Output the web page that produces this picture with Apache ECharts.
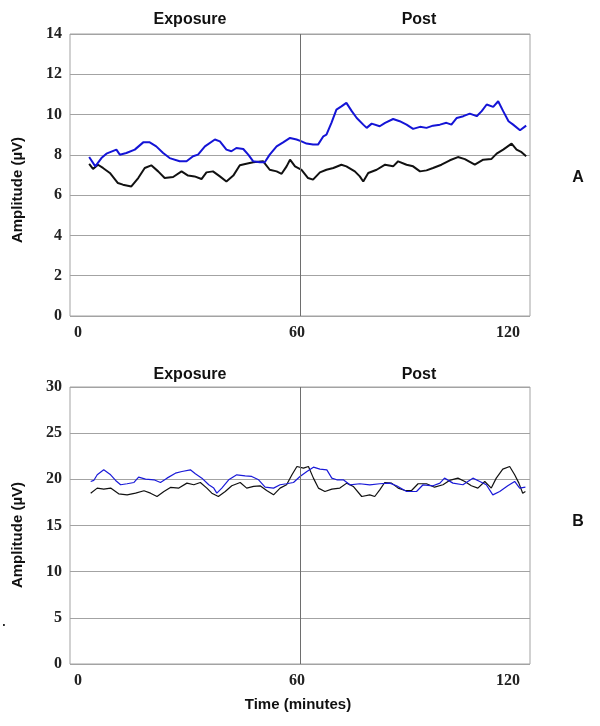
<!DOCTYPE html>
<html>
<head>
<meta charset="utf-8">
<script src="https://cdn.jsdelivr.net/npm/echarts@6/dist/echarts.min.js"></script>
<style>
  html, body { margin: 0; padding: 0; background: #fff; }
  #chart { width: 600px; height: 726px; }
</style>
</head>
<body>
<div id="chart"></div>
<script>
// panel A (top), time in minutes
var timeBlueA = [5.0, 6.6, 8.2, 9.5, 12.1, 13.0, 14.7, 16.9, 19.1, 20.8, 22.5, 24.3, 26.0, 28.6, 30.4, 32.1, 33.4, 35.2, 37.8, 39.1, 40.8, 42.1, 43.4, 45.2, 46.5, 47.8, 49.5, 50.8, 52.1, 53.9, 55.6, 57.4, 59.1, 60.4, 61.7, 63.4, 64.7, 66.1, 66.9, 68.2, 69.5, 70.8, 72.1, 73.5, 74.8, 76.5, 77.4, 78.7, 80.8, 82.2, 84.3, 86.0, 87.8, 89.5, 91.3, 93.0, 94.7, 96.5, 98.2, 99.5, 100.9, 102.6, 104.3, 106.1, 107.4, 108.7, 110.4, 111.7, 113.0, 114.4, 115.6, 117.4, 119.0]
var blueA = [7.89, 7.43, 7.84, 8.06, 8.26, 8.01, 8.09, 8.26, 8.62, 8.62, 8.42, 8.09, 7.84, 7.68, 7.68, 7.93, 8.01, 8.42, 8.76, 8.67, 8.26, 8.18, 8.34, 8.29, 8.01, 7.68, 7.63, 7.63, 8.01, 8.42, 8.62, 8.84, 8.76, 8.67, 8.56, 8.51, 8.51, 8.92, 9.0, 9.59, 10.25, 10.41, 10.58, 10.17, 9.83, 9.5, 9.34, 9.55, 9.42, 9.59, 9.78, 9.67, 9.5, 9.29, 9.39, 9.34, 9.45, 9.5, 9.59, 9.5, 9.83, 9.92, 10.05, 9.92, 10.17, 10.5, 10.38, 10.66, 10.17, 9.67, 9.5, 9.22, 9.45]
var timeBlackA = [5.0, 6.0, 7.3, 8.6, 10.4, 12.5, 13.8, 16.0, 17.8, 19.5, 21.2, 23.0, 24.7, 26.9, 29.1, 30.8, 32.5, 34.3, 35.6, 37.3, 39.1, 40.8, 42.6, 44.3, 46.0, 47.8, 50.4, 52.1, 53.9, 55.2, 56.5, 57.4, 58.7, 60.4, 62.1, 63.4, 65.2, 66.9, 68.7, 70.8, 72.1, 74.3, 75.6, 76.5, 77.8, 80.0, 82.2, 84.3, 85.6, 87.8, 89.5, 91.3, 93.0, 94.7, 96.9, 99.1, 101.2, 103.0, 105.6, 107.8, 109.9, 111.3, 113.0, 115.2, 116.5, 117.8, 119.0]
var blackA = [7.55, 7.3, 7.51, 7.35, 7.1, 6.6, 6.52, 6.43, 6.85, 7.35, 7.48, 7.18, 6.85, 6.9, 7.18, 6.97, 6.93, 6.8, 7.13, 7.18, 6.93, 6.68, 6.97, 7.48, 7.56, 7.63, 7.68, 7.26, 7.18, 7.06, 7.43, 7.76, 7.43, 7.26, 6.85, 6.77, 7.13, 7.26, 7.35, 7.51, 7.43, 7.18, 6.93, 6.68, 7.1, 7.26, 7.51, 7.43, 7.68, 7.51, 7.43, 7.18, 7.23, 7.35, 7.51, 7.73, 7.89, 7.79, 7.51, 7.76, 7.79, 8.06, 8.26, 8.56, 8.26, 8.13, 7.93]

// panel B (bottom)
var timeBlueB = [5.4, 6.2, 7.1, 8.8, 10.6, 11.9, 13.2, 14.9, 16.7, 17.9, 19.7, 21.9, 23.6, 25.3, 27.5, 29.2, 31.4, 32.7, 34.4, 36.2, 37.5, 38.3, 39.6, 41.4, 43.5, 45.7, 47.4, 49.2, 50.9, 53.1, 54.8, 56.5, 58.3, 60.0, 61.8, 63.5, 65.2, 67.0, 68.3, 69.6, 71.3, 73.0, 75.6, 78.2, 80.8, 83.4, 85.2, 87.8, 90.4, 92.1, 94.7, 96.5, 97.7, 99.9, 102.5, 105.1, 106.9, 108.6, 110.3, 112.1, 114.2, 116.0, 117.3, 118.8]
var blueB = [19.77, 19.88, 20.49, 21.03, 20.49, 19.88, 19.41, 19.52, 19.66, 20.24, 20.02, 19.95, 19.66, 20.13, 20.67, 20.85, 21.03, 20.6, 20.13, 19.41, 19.05, 18.5, 19.05, 19.95, 20.49, 20.38, 20.31, 19.95, 19.15, 19.05, 19.41, 19.52, 19.66, 20.31, 20.85, 21.32, 21.11, 21.03, 20.13, 19.95, 19.95, 19.41, 19.52, 19.41, 19.52, 19.59, 19.3, 18.68, 18.68, 19.41, 19.3, 19.59, 20.13, 19.59, 19.41, 20.13, 19.77, 19.41, 18.32, 18.68, 19.3, 19.77, 19.05, 19.15]
var timeBlackB = [5.4, 7.1, 8.8, 10.6, 12.7, 14.9, 17.1, 19.3, 21.0, 22.7, 24.5, 26.2, 28.4, 30.5, 32.3, 34.0, 35.7, 37.0, 38.7, 40.5, 42.2, 44.4, 46.1, 47.9, 49.6, 51.3, 53.1, 54.8, 56.5, 57.9, 59.2, 60.9, 62.2, 63.5, 64.8, 66.5, 68.3, 70.4, 72.2, 73.9, 76.1, 78.2, 79.5, 80.8, 82.1, 83.9, 85.6, 87.4, 89.1, 90.8, 93.0, 95.1, 97.3, 99.0, 101.2, 103.0, 104.7, 106.4, 108.2, 109.9, 111.2, 112.9, 114.7, 116.0, 117.1, 118.1, 118.8]
var blackB = [18.5, 19.05, 18.94, 19.05, 18.43, 18.32, 18.5, 18.76, 18.5, 18.14, 18.68, 19.12, 19.05, 19.59, 19.41, 19.66, 19.05, 18.5, 18.14, 18.68, 19.3, 19.66, 19.05, 19.23, 19.3, 18.79, 18.32, 19.05, 19.41, 20.49, 21.39, 21.21, 21.39, 20.13, 19.05, 18.68, 18.94, 19.05, 19.59, 19.23, 18.14, 18.32, 18.14, 18.86, 19.66, 19.59, 19.05, 18.79, 18.79, 19.52, 19.52, 19.15, 19.41, 19.88, 20.13, 19.77, 19.3, 19.05, 19.77, 19.05, 20.13, 21.1, 21.39, 20.49, 19.59, 18.5, 18.68]

var phaseLabels = ['Exposure', 'Post']

function pairs(t, v) {
  return t.map(function (x, i) { return [x, v[i]] })
}

var chart = echarts.init(document.getElementById('chart'))

var gridColor = '#a3a3a3'
var tickFont = {
  fontFamily: 'Liberation Serif',
  fontWeight: 'bold',
  fontSize: 16,
  color: '#222',
}
var sansBold = 'bold 15px "Liberation Sans"'

function xAxisFor(idx) {
  return {
    type: 'value',
    gridIndex: idx,
    min: 0,
    max: 120,
    interval: 60,
    axisLine: { show: false },
    axisTick: { show: false },
    splitLine: { show: false },
    axisLabel: Object.assign({
      margin: 9,
      alignMinLabel: 'left',
      alignMaxLabel: 'right',
      formatter: function (v) {
        if (v === 0) return '{l|0}'
        if (v === 120) return '{r|120}'
        return '{m|' + v + '}'
      },
      rich: {
        l: Object.assign({ padding: [0, 0, 0, 4] }, tickFont),
        m: Object.assign({ padding: [0, 6, 0, 0] }, tickFont),
        r: Object.assign({ padding: [0, 10, 0, 0] }, tickFont),
      },
    }, tickFont),
  }
}

function yAxisFor(idx, max, step) {
  return {
    type: 'value',
    gridIndex: idx,
    min: 0,
    max: max,
    interval: step,
    axisLine: { show: false },
    axisTick: { show: false },
    splitLine: { lineStyle: { color: gridColor, width: 1 } },
    axisLabel: Object.assign({ margin: 8 }, tickFont),
  }
}

var divider = {
  silent: true,
  symbol: 'none',
  label: { show: false },
  lineStyle: { color: '#6e6e6e', width: 1, type: 'solid' },
  data: [{ xAxis: 60 }],
}

function lineSeries(idx, data, color, width, mark) {
  var s = {
    type: 'line',
    xAxisIndex: idx,
    yAxisIndex: idx,
    data: data,
    showSymbol: false,
    smooth: false,
    lineStyle: { color: color, width: width },
    itemStyle: { color: color },
  }
  if (mark) s.markLine = divider
  return s
}

function txt(x, y, text, font, rot) {
  return {
    type: 'text',
    x: x,
    y: y,
    rotation: rot || 0,
    style: { text: text, font: font, fill: '#111', align: 'center', verticalAlign: 'middle' },
  }
}

chart.setOption({
  animation: false,
  grid: [
    { left: 70, top: 34, width: 460, height: 282, show: true, borderColor: gridColor, borderWidth: 1 },
    { left: 70, top: 387, width: 460, height: 277, show: true, borderColor: gridColor, borderWidth: 1 },
  ],
  xAxis: [xAxisFor(0), xAxisFor(1)],
  yAxis: [yAxisFor(0, 14, 2), yAxisFor(1, 30, 5)],
  series: [
    lineSeries(0, pairs(timeBlackA, blackA), '#111111', 2, true),
    lineSeries(0, pairs(timeBlueA, blueA), '#1414d6', 2, false),
    lineSeries(1, pairs(timeBlackB, blackB), '#111111', 1.2, true),
    lineSeries(1, pairs(timeBlueB, blueB), '#1a1ad8', 1.2, false),
  ],
  graphic: [
    txt(190, 20, phaseLabels[0], 'bold 16px "Liberation Sans"'),
    txt(419, 20, phaseLabels[1], 'bold 16px "Liberation Sans"'),
    txt(190, 375, phaseLabels[0], 'bold 16px "Liberation Sans"'),
    txt(419, 375, phaseLabels[1], 'bold 16px "Liberation Sans"'),
    txt(18, 190, 'Amplitude (µV)', sansBold, Math.PI / 2),
    txt(18, 535, 'Amplitude (µV)', sansBold, Math.PI / 2),
    txt(298, 705, 'Time (minutes)', sansBold),
    txt(578, 178, 'A', 'bold 16px "Liberation Sans"'),
    txt(578, 522, 'B', 'bold 16px "Liberation Sans"'),
    txt(4, 623, '.', 'bold 12px "Liberation Sans"'),
  ],
})
</script>
</body>
</html>
